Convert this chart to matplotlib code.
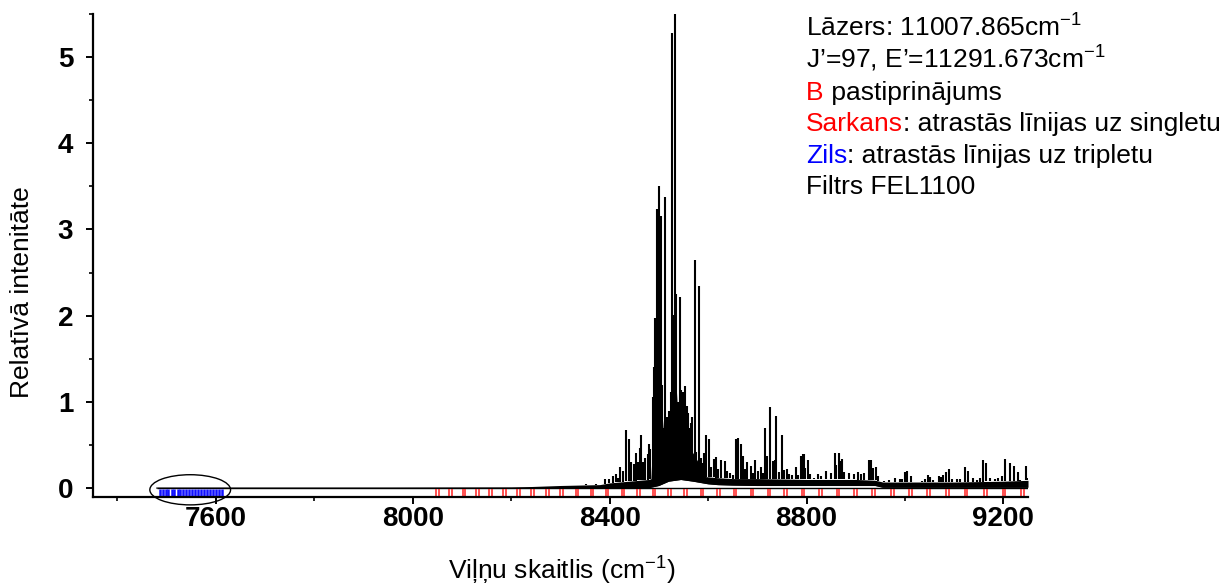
import matplotlib.pyplot as plt
import numpy as np
from matplotlib.patches import Ellipse
from matplotlib.ticker import MultipleLocator

plt.rcParams["font.family"] = ["Liberation Sans", "DejaVu Sans"]
plt.rcParams["mathtext.fontset"] = "custom"
plt.rcParams["mathtext.rm"] = "Liberation Sans"
plt.rcParams["mathtext.default"] = "regular"

# fluorescence lines: wavenumber (cm-1) and relative intensity
peak_wn = [
    8307, 8332, 8353, 8373, 8390, 8399, 8407, 8412, 8418, 8422, 8428, 8434, 8439, 8444, 8449,
    8453, 8457, 8461, 8464, 8468, 8472, 8477, 8480, 8483, 8488, 8491, 8493, 8496, 8498, 8501,
    8504, 8507, 8510, 8512, 8514, 8516, 8520, 8524, 8527, 8531, 8532, 8535, 8538, 8543, 8546,
    8550, 8554, 8557, 8559, 8562, 8565, 8568, 8573, 8576, 8581, 8585, 8588, 8591, 8596, 8602,
    8607, 8612, 8617, 8621, 8627, 8634, 8639, 8644, 8650, 8656, 8660, 8667, 8671, 8675, 8680,
    8688, 8692, 8696, 8701, 8707, 8711, 8715, 8720, 8726, 8732, 8735, 8739, 8744, 8751, 8755,
    8760, 8764, 8770, 8778, 8783, 8789, 8793, 8795, 8797, 8803, 8807, 8815, 8824, 8830, 8840,
    8850, 8857, 8860, 8865, 8868, 8872, 8877, 8887, 8897, 8904, 8910, 8917, 8927, 8931, 8936,
    8941, 8945, 8958, 8968, 8979, 8989, 8994, 9000, 9004, 9012, 9022, 9035, 9040, 9046, 9050,
    9057, 9069, 9073, 9078, 9084, 9089, 9096, 9105, 9112, 9121, 9128, 9138, 9146, 9153, 9159,
    9165, 9173, 9182, 9190, 9198, 9204, 9214, 9221, 9229, 9234, 9245, 9248,
]
peak_int = [
    0.04, 0.04, 0.05, 0.05, 0.10, 0.10, 0.14, 0.16, 0.12, 0.25, 0.20, 0.67, 0.57, 0.30, 0.28,
    0.41, 0.30, 0.46, 0.62, 0.30, 0.35, 0.39, 0.51, 0.45, 1.06, 1.40, 1.97, 3.24, 2.07, 3.50,
    3.16, 1.20, 0.70, 3.38, 0.58, 0.82, 0.89, 1.12, 5.28, 2.01, 5.50, 2.25, 1.00, 2.22, 1.14,
    1.12, 1.19, 0.95, 0.87, 0.70, 0.75, 0.82, 2.65, 0.42, 2.34, 0.35, 0.29, 0.41, 0.61, 0.57,
    0.25, 0.34, 0.36, 0.22, 0.33, 0.31, 0.20, 0.17, 0.15, 0.57, 0.58, 0.51, 0.37, 0.22, 0.30,
    0.26, 0.18, 0.32, 0.20, 0.25, 0.18, 0.70, 0.37, 0.94, 0.31, 0.33, 0.84, 0.19, 0.62, 0.21,
    0.22, 0.16, 0.15, 0.25, 0.15, 0.37, 0.39, 0.40, 0.23, 0.33, 0.16, 0.12, 0.16, 0.14, 0.20,
    0.18, 0.41, 0.27, 0.41, 0.31, 0.34, 0.19, 0.18, 0.16, 0.19, 0.16, 0.17, 0.32, 0.32, 0.23,
    0.24, 0.14, 0.08, 0.09, 0.12, 0.11, 0.10, 0.19, 0.20, 0.14, 0.07, 0.08, 0.10, 0.15, 0.13,
    0.09, 0.14, 0.13, 0.15, 0.19, 0.22, 0.10, 0.11, 0.10, 0.24, 0.20, 0.12, 0.09, 0.12, 0.32,
    0.29, 0.12, 0.10, 0.12, 0.14, 0.34, 0.29, 0.26, 0.19, 0.09, 0.26, 0.12,
]

# continuum (lower edge) and top of the dense noise band
band_wn = [7480, 8200, 8300, 8380, 8400, 8440, 8480, 8500, 8520, 8545, 8570, 8600, 8620,
           8650, 8700, 8800, 8900, 8940, 8955, 9000, 9100, 9200, 9250]
band_lo = [0, 0, 0, 0, 0, 0, 0.005, 0.03, 0.08, 0.10, 0.08, 0.05, 0.04,
           0.035, 0.03, 0.03, 0.03, 0.03, 0.01, 0.01, 0.01, 0.01, 0.01]
band_hi = [0, 0.01, 0.03, 0.04, 0.06, 0.08, 0.10, 0.14, 0.16, 0.16, 0.15, 0.13, 0.12,
           0.11, 0.11, 0.10, 0.10, 0.09, 0.07, 0.07, 0.07, 0.08, 0.09]

# overlapping lines in the strongest part of the band
core_wn = [8484, 8487, 8490, 8493, 8497, 8502, 8506, 8510, 8514, 8518, 8522, 8526, 8530, 8534,
           8538, 8542, 8546, 8550, 8555, 8560, 8565, 8570, 8575, 8580, 8585, 8590, 8595]
core_int = [0.12, 0.5, 0.8, 1.4, 1.8, 1.6, 0.9, 0.6, 0.45, 0.5, 0.55, 0.6, 1.0, 1.3,
            0.9, 0.7, 0.6, 0.55, 0.5, 0.45, 0.45, 0.4, 0.35, 0.3, 0.25, 0.2, 0.15]

# assigned line positions: singlet (red) and triplet (blue) doublets
singlet_wn = [8051, 8077, 8104, 8131, 8158, 8187, 8215, 8244, 8274, 8303, 8334, 8364, 8395,
              8427, 8459, 8490, 8522, 8554, 8588, 8621, 8655, 8689, 8724, 8757, 8793, 8828,
              8864, 8900, 8936, 8974, 9011, 9048, 9086, 9124, 9163, 9201, 9239]
triplet_wn = [7489, 7501, 7513, 7525, 7537, 7549, 7561, 7573, 7585, 7597, 7609]
doublet_gap = 5.5

fig = plt.figure(figsize=(12.25, 5.86), dpi=100)
ax = fig.add_axes([0.0757, 0.1524, 0.7635, 0.8237])

ax.hlines(0, band_wn[0], band_wn[-1], color="black", lw=1.0)
ax.fill_between(band_wn, band_lo, band_hi, color="black", lw=0)
ax.plot(band_wn, band_lo, color="black", lw=0.8)
ax.fill_between(core_wn, 0.1, core_int, color="black", lw=0)
ax.vlines(peak_wn, np.interp(peak_wn, band_wn, band_hi), peak_int, color="black", lw=1.5)

# marker doublets below the zero line
for wn in singlet_wn:
    ax.vlines([wn - doublet_gap / 2, wn + doublet_gap / 2], -0.09, -0.005, color="#ff2020", lw=1.1)
for wn in triplet_wn:
    ax.vlines([wn - doublet_gap / 2, wn + doublet_gap / 2], -0.09, -0.005, color="#1010ff", lw=1.8)
ax.add_patch(Ellipse((7548, -0.02), 164, 0.35, fill=False, ec="black", lw=1.0, clip_on=False))

ax.set_xlim(7350, 9250)
ax.set_ylim(-0.1, 5.5)
ax.xaxis.set_major_locator(MultipleLocator(400))
ax.xaxis.set_minor_locator(MultipleLocator(200))
ax.yaxis.set_major_locator(MultipleLocator(1))
ax.yaxis.set_minor_locator(MultipleLocator(0.5))
for side in ["top", "right"]:
    ax.spines[side].set_visible(False)
for side in ["left", "bottom"]:
    ax.spines[side].set_linewidth(1.6)
ax.tick_params(which="major", direction="out", length=5, width=1.4, labelsize=20)
ax.tick_params(which="minor", direction="out", length=3, width=1.2)
ax.tick_params(axis="x", pad=2)
ax.tick_params(axis="y", pad=9)
for lab in ax.get_xticklabels() + ax.get_yticklabels():
    lab.set_fontweight("bold")

fs = 19
fig.text(22 / 1225, 1 - 292 / 586, "Relatīvā intenitāte", rotation=90, fontsize=fs,
         ha="center", va="center")
fig.text(562 / 1225, 1 - 571 / 586, "Viļņu skaitlis (cm$^{-1}$)", fontsize=fs,
         ha="center", va="center")

# annotation block in the upper right, one baseline per row
tx = 806 / 1225
rows = [37, 68, 100, 131, 163, 194]
fig.text(tx, 1 - rows[0] / 586, "Lāzers: 11007.865cm$^{-1}$", fontsize=fs, va="baseline")
fig.text(tx, 1 - rows[1] / 586, "J’=97, E’=11291.673cm$^{-1}$", fontsize=fs, va="baseline")
for y, head, color, rest in [
    (rows[2], "B", "#ff0000", " pastiprinājums"),
    (rows[3], "Sarkans", "#ff0000", ": atrastās līnijas uz singletu"),
    (rows[4], "Zils", "#0000ff", ": atrastās līnijas uz tripletu"),
]:
    t = fig.text(tx, 1 - y / 586, head, fontsize=fs, va="baseline", color=color)
    ax.annotate(rest, xy=(1, 0), xycoords=t, fontsize=fs, va="bottom", ha="left",
                color="black", annotation_clip=False)
fig.text(tx, 1 - rows[5] / 586, "Filtrs FEL1100", fontsize=fs, va="baseline")

fig.savefig("out.png", dpi=100)
